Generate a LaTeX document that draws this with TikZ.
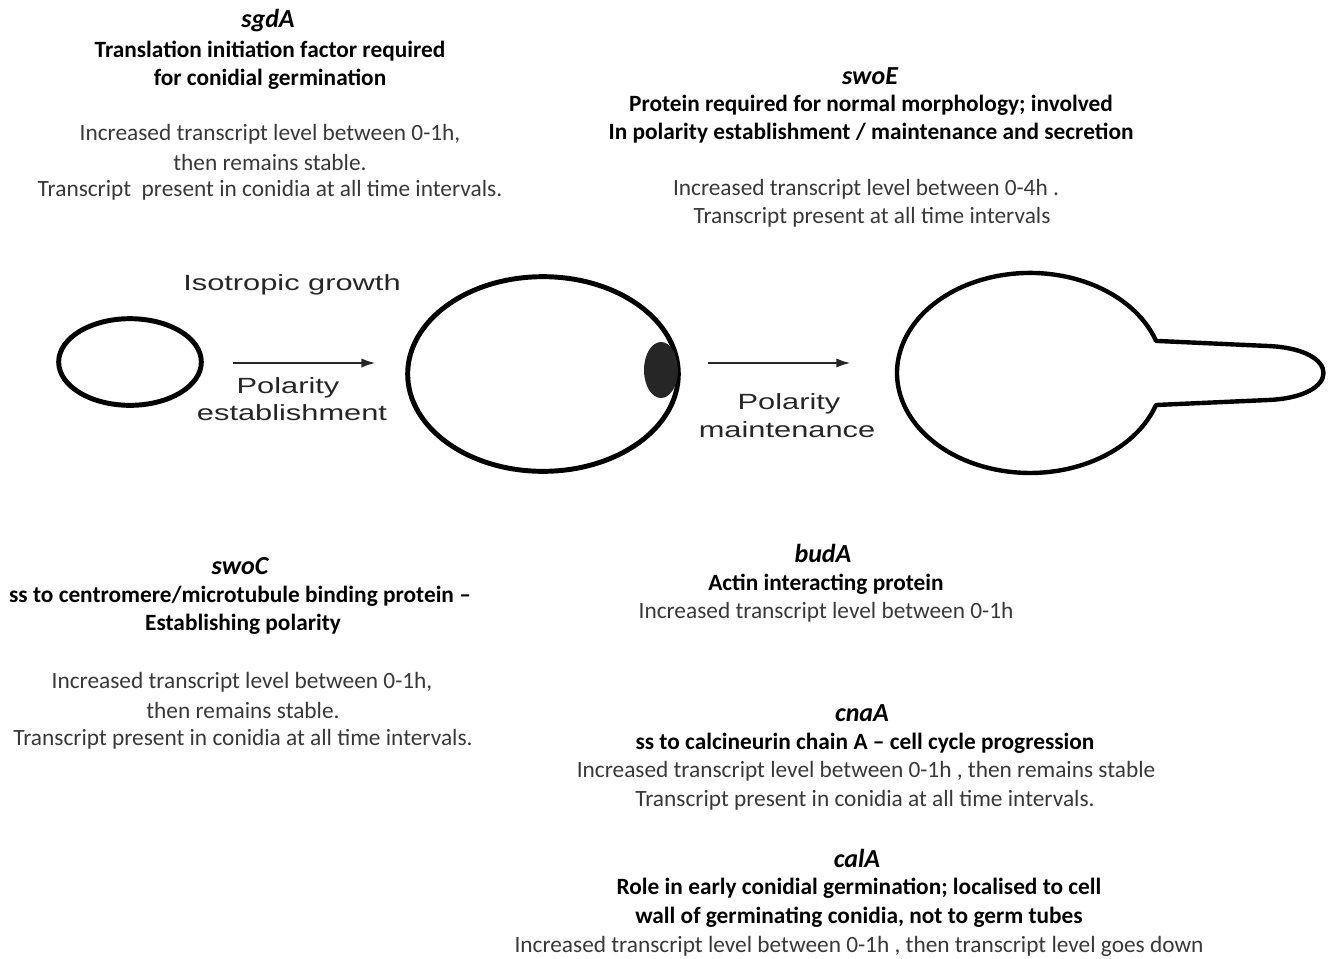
\documentclass[tikz,border=0pt]{standalone}
\usepackage{fontspec}
\setmainfont{Carlito}
\newfontfamily\arialfont{Liberation Sans}
\usetikzlibrary{arrows.meta,shapes.geometric}

\definecolor{notegray}{HTML}{383838}
\definecolor{labelgray}{HTML}{262626}

\tikzset{
    gene/.style={inner sep=0pt, font=\fontsize{19.5}{22}\selectfont\bfseries\itshape},
    role/.style={inner sep=0pt, font=\fontsize{17.5}{20}\selectfont\bfseries},
    note/.style={inner sep=0pt, text=notegray, font=\fontsize{17.5}{20}\selectfont},
    stage/.style={inner sep=0pt, text=labelgray, font=\arialfont\fontsize{16.5}{18}\selectfont},
    cell/.style={draw, ellipse, line width=3.7pt, inner sep=0pt},
    growarrow/.style={-{Latex[length=11pt,width=7pt]}, line width=2pt, draw=black!85},
}
\newcommand{\wide}[1]{\scalebox{1.4}[1]{#1}}

\begin{document}
\begin{tikzpicture}[x=0.75pt,y=-0.75pt]
        \useasboundingbox (0,0) rectangle (1332,958);

        % sgdA
        \node[gene] (sgd) at (268,21) {sgdA};
        \node[role] (sgd1) at (270,51) {Translation initiation factor required};
        \node[role] (sgd2) at (270,79) {for conidial germination};
        \node[note] (sgd3) at (270,134) {Increased transcript level between 0-1h,};
        \node[note] (sgd4) at (270,162) {then remains stable.};
        \node[note] (sgd5) at (270,190) {Transcript\ \ present in conidia at all time intervals.};

        % swoE
        \node[gene] (swoe) at (870,76) {swoE};
        \node[role] (swoe1) at (871,105) {Protein required for normal morphology; involved};
        \node[role] (swoe2) at (871,133) {In polarity establishment / maintenance and secretion};
        \node[note] (swoe3) at (866,189) {Increased transcript level between 0-4h .};
        \node[note] (swoe4) at (872,217) {Transcript present at all time intervals};

        % cells
        \node[cell, minimum width=107pt, minimum height=65pt] (spore) at (130,362) {};
        \node[cell, minimum width=203pt, minimum height=146pt] (swollen) at (543,374) {};
        \begin{scope}
            \clip (543,374) ellipse [x radius=135, y radius=97];
            \fill[black!85] (661,370) ellipse [x radius=17, y radius=28];
        \end{scope}
        \coordinate (germ) at (1030,373);
        \draw[line width=3.3pt, line join=round]
            (1156,405) arc[start angle=18.7, end angle=341.3, x radius=133, y radius=100]
            -- (1268,346) .. controls (1342,349) and (1342,397) .. (1268,400) -- cycle;

        % arrows
        \coordinate (a1) at (233,363);
        \coordinate (b1) at (376,363);
        \coordinate (a2) at (708,363);
        \coordinate (b2) at (851,363);
        \draw[growarrow] (a1) -- (b1);
        \draw[growarrow] (a2) -- (b2);

        \node[stage] (iso) at (292,285) {\wide{Isotropic growth}};
        \node[stage] (pol1) at (288,388) {\wide{Polarity}};
        \node[stage] (pol2) at (292,413) {\wide{establishment}};
        \node[stage] (pol3) at (789,404) {\wide{Polarity}};
        \node[stage] (pol4) at (787,430) {\wide{maintenance}};

        % swoC
        \node[gene] (swoc) at (240,566) {swoC};
        \node[role] (swoc1) at (240,596) {ss to centromere/microtubule binding protein --};
        \node[role] (swoc2) at (243,624) {Establishing polarity};
        \node[note] (swoc3) at (242,682) {Increased transcript level between 0-1h,};
        \node[note] (swoc4) at (243,710) {then remains stable.};
        \node[note] (swoc5) at (243,739) {Transcript present in conidia at all time intervals.};

        % budA
        \node[gene] (bud) at (823,553) {budA};
        \node[role] (bud1) at (826,584) {Actin interacting protein};
        \node[note] (bud2) at (826,612) {Increased transcript level between 0-1h};

        % cnaA
        \node[gene] (cna) at (862,713) {cnaA};
        \node[role] (cna1) at (865,743) {ss to calcineurin chain A -- cell cycle progression};
        \node[note] (cna2) at (866,771) {Increased transcript level between 0-1h , then remains stable};
        \node[note] (cna3) at (865,800) {Transcript present in conidia at all time intervals.};

        % calA
        \node[gene] (cal) at (857,858) {calA};
        \node[role] (cal1) at (859,888) {Role in early conidial germination; localised to cell};
        \node[role] (cal2) at (859,917) {wall of germinating conidia, not to germ tubes};
        \node[note] (cal3) at (859,946) {Increased transcript level between 0-1h , then transcript level goes down};
    \end{tikzpicture}
\end{document}
